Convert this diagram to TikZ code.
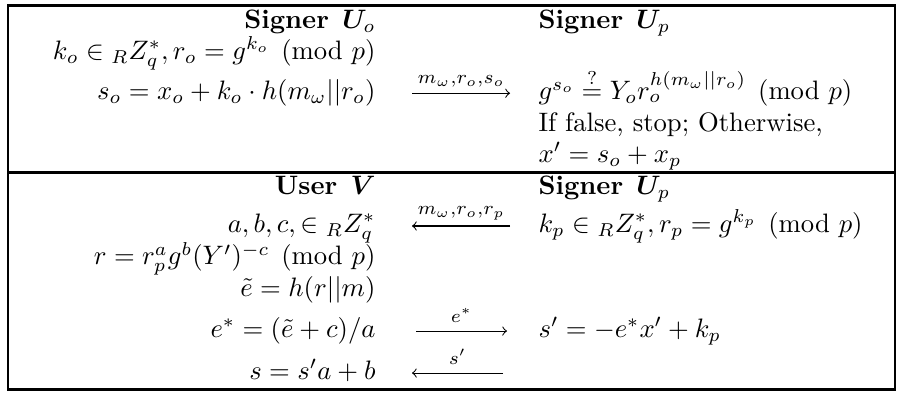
\documentclass[tikz,border=0pt]{standalone}
\usepackage{amsmath,bm}
\newsavebox\cellbox
\newlength\rowht
\newlength\rowdp
\newlength\ypos
\newcommand\cellmeasure[1]{\sbox\cellbox{#1}%
  \ifdim\ht\cellbox>\rowht \global\rowht=\ht\cellbox\fi
  \ifdim\dp\cellbox>\rowdp \global\rowdp=\dp\cellbox\fi}
\newcommand\tabrow[2]{%
  \global\rowht=8.4pt\global\rowdp=3.6pt
  #2%
  \global\advance\ypos by -\rowht
  \pgfmathsetmacro\tmpy{\ypos}%
  \expandafter\global\expandafter\let\csname rowy#1\endcsname\tmpy
  \global\advance\ypos by -\rowdp}
\newcommand\tabrule[1]{%
  \pgfmathsetmacro\tmpy{\ypos-0.2pt}%
  \expandafter\global\expandafter\let\csname ruley#1\endcsname\tmpy
  \global\advance\ypos by -0.4pt}
% cell contents
\newcommand\cLa{\textbf{Signer}\enspace$\bm{U}_o$}
\newcommand\cRa{\textbf{Signer}\enspace$\bm{U}_p$}
\newcommand\cLb{$k_o \in {}_RZ_q^*, r_o = g^{k_o} \pmod p$}
\newcommand\cLc{$s_o = x_o + k_o\cdot h(m_\omega||r_o)$}
\newcommand\cRc{$g^{s_o} \stackrel{?}{=} Y_o r_o^{h(m_\omega||r_o)} \pmod p$}
\newcommand\cRd{If false, stop; Otherwise,}
\newcommand\cRe{$x' = s_o + x_p$}
\newcommand\cLf{\textbf{User}\enspace$\bm{V}$}
\newcommand\cLg{$a,b,c,\in {}_RZ_q^*$}
\newcommand\cRg{$k_p \in {}_RZ_q^*, r_p = g^{k_p} \pmod p$}
\newcommand\cLh{$r = r_p^a g^b (Y')^{-c} \pmod p$}
\newcommand\cLi{$\tilde{e} = h(r||m)$}
\newcommand\cLj{$e^* = (\tilde{e}+c)/a$}
\newcommand\cRj{$s' = -e^*x' + k_p$}
\newcommand\cLk{$s = s'a + b$}
\begin{document}
\begin{tikzpicture}[
  lft/.style={anchor=base east, inner sep=0pt, scale=1.02},
  rgt/.style={anchor=base west, inner sep=0pt, scale=1.02},
  msg/.style={line width=0.4pt, -to},
  lbl/.style={anchor=base, inner sep=0pt, scale=1.02},
  frame/.style={line width=0.8pt}
]
% ---- geometry of the table rows (as a tabular would set them) ----
\global\ypos=0pt
\tabrule{top}
\tabrow{a}{\cellmeasure{\cLa}\cellmeasure{\cRa}}
\tabrow{b}{\cellmeasure{\cLb}}
\tabrow{c}{\cellmeasure{\cLc}\cellmeasure{$\xrightarrow{m_\omega,r_o,s_o}$}\cellmeasure{\cRc}}
\tabrow{d}{\cellmeasure{\cRd}}
\tabrow{e}{\cellmeasure{\cRe}}
\tabrule{mid}
\tabrow{f}{\cellmeasure{\cLf}\cellmeasure{\cRa}}
\tabrow{g}{\cellmeasure{\cLg}\cellmeasure{$\xleftarrow{m_\omega,r_o,r_p}$}\cellmeasure{\cRg}}
\tabrow{h}{\cellmeasure{\cLh}}
\tabrow{i}{\cellmeasure{\cLi}}
\tabrow{j}{\cellmeasure{\cLj}\cellmeasure{$\xrightarrow{e^*}$}\cellmeasure{\cRj}}
\tabrow{k}{\cellmeasure{\cLk}\cellmeasure{$\xleftarrow{s'}$}}
\tabrule{bot}
\pgfmathsetmacro\tabT{0-\ypos}
\pgfmathsetmacro\pxs{\tabT/385}
\begin{scope}[x=\pxs pt, y=1pt]
\useasboundingbox (0,{5*\pxs}) rectangle (902,{-\tabT-8*\pxs});
% frame and separating rule
\draw[frame] (8,\ruleytop) rectangle (895,\ruleybot);
\draw[frame] (8,\ruleymid) -- (895,\ruleymid);
% top part: Signer U_o  ->  Signer U_p
\node[lft] (uo)  at (376,\rowya) {\cLa};
\node[rgt] (up1) at (538,\rowya) {\cRa};
\node[lft] (ko)  at (376,\rowyb) {\cLb};
\node[lft] (so)  at (376,\rowyc) {\cLc};
\node[rgt] (chk) at (538,\rowyc) {\cRc};
\node[rgt] (iff) at (538,\rowyd) {\cRd};
\node[rgt] (xp)  at (538,\rowye) {\cRe};
\coordinate (m1l) at (412,{\rowyc+2.5});
\coordinate (m1r) at (510,{\rowyc+2.5});
\draw[msg] (m1l) -- (m1r) node[midway, lbl, yshift=3.6pt] (t1) {$\scriptstyle m_\omega,r_o,s_o$};
% bottom part: User V  <->  Signer U_p
\node[lft] (uv)  at (376,\rowyf) {\cLf};
\node[rgt] (up2) at (538,\rowyf) {\cRa};
\node[lft] (abc) at (376,\rowyg) {\cLg};
\node[rgt] (kp)  at (538,\rowyg) {\cRg};
\node[lft] (rr)  at (376,\rowyh) {\cLh};
\node[lft] (et)  at (376,\rowyi) {\cLi};
\node[lft] (es)  at (376,\rowyj) {\cLj};
\node[rgt] (sp)  at (538,\rowyj) {\cRj};
\node[lft] (ss)  at (376,\rowyk) {\cLk};
\coordinate (m2l) at (412,{\rowyg+2.5});
\coordinate (m2r) at (510,{\rowyg+2.5});
\draw[msg] (m2r) -- (m2l) node[midway, lbl, yshift=4.3pt] (t2) {$\scriptstyle m_\omega,r_o,r_p$};
\coordinate (m3l) at (416,{\rowyj+2.5});
\coordinate (m3r) at (507,{\rowyj+2.5});
\draw[msg] (m3l) -- (m3r) node[midway, lbl, yshift=3.2pt] (t3) {$\scriptstyle e^*$};
\coordinate (m4l) at (412,{\rowyk+2.5});
\coordinate (m4r) at (503,{\rowyk+2.5});
\draw[msg] (m4r) -- (m4l) node[midway, lbl, yshift=3.2pt] (t4) {$\scriptstyle s'$};
\end{scope}
\end{tikzpicture}
\end{document}
